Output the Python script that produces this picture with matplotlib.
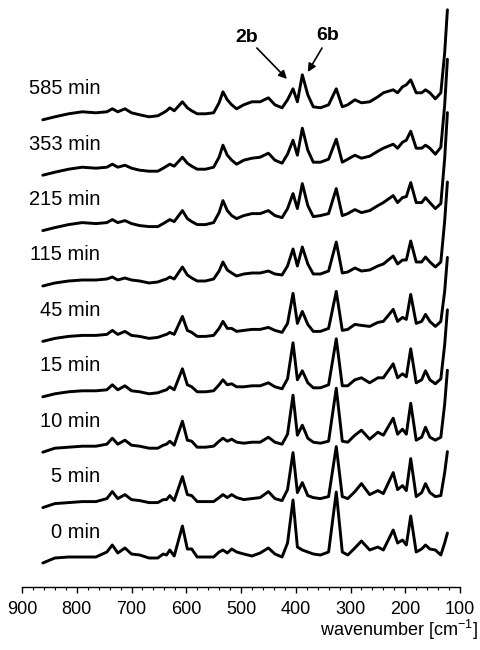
import matplotlib
matplotlib.use('Agg')
import matplotlib.pyplot as plt
from matplotlib.ticker import MultipleLocator
import numpy as np

# shared wavenumber grid (cm^-1) at which the spectra were read
wavenumber = [862, 840, 815, 790, 765, 745, 735, 725, 712, 700,
              685, 668, 652, 642, 636, 630, 622, 607, 598, 590,
              580, 565, 550, 540, 533, 525, 517, 508, 495, 480,
              465, 450, 438, 425, 415, 405, 397, 388, 378, 368,
              355, 340, 326, 315, 305, 292, 280, 265, 250, 240,
              222, 214, 205, 198, 190, 180, 170, 163, 155, 145,
              135, 128, 123]

times = ['0 min', '5 min', '10 min', '15 min', '45 min',
         '115 min', '215 min', '353 min', '585 min']

s_0 = [0, 5, 6, 6, 6, 11, 18, 10, 15, 9, 8, 5, 5, 9, 8, 13, 7, 37, 14, 14,
       6, 6, 6, 11, 13, 10, 14, 11, 9, 7, 10, 15, 9, 6, 20, 63, 16, 13, 11, 9,
       8, 11, 71, 11, 8, 15, 22, 13, 16, 13, 33, 20, 23, 18, 47, 11, 14, 18, 14, 13,
       8, 20, 30]
s_5 = [0, 4, 5, 6, 6, 9, 16, 9, 13, 8, 7, 5, 5, 8, 8, 12, 7, 31, 13, 12,
       6, 6, 6, 10, 13, 10, 13, 10, 8, 9, 10, 16, 9, 7, 18, 55, 15, 25, 12, 10,
       9, 11, 61, 11, 9, 16, 24, 13, 17, 14, 35, 18, 22, 17, 49, 11, 15, 24, 15, 11,
       12, 35, 56]
s_10 = [0, 4, 5, 6, 6, 8, 14, 8, 12, 7, 6, 4, 4, 7, 8, 11, 7, 31, 12, 11,
        5, 5, 6, 11, 14, 11, 13, 10, 9, 10, 10, 15, 10, 8, 18, 57, 17, 27, 14, 10,
        9, 11, 64, 11, 10, 17, 22, 13, 20, 17, 34, 18, 23, 18, 49, 12, 15, 25, 15, 12,
        15, 48, 82]
s_15 = [0, 3, 5, 6, 6, 7, 12, 7, 11, 6, 5, 3, 4, 6, 7, 10, 7, 28, 12, 10,
        5, 5, 6, 12, 17, 12, 13, 10, 10, 11, 11, 14, 10, 8, 18, 54, 17, 26, 14, 9,
        9, 12, 58, 11, 11, 17, 19, 14, 19, 19, 33, 19, 23, 20, 48, 14, 17, 26, 17, 13,
        18, 52, 87]
s_45 = [0, 3, 5, 6, 6, 7, 11, 7, 10, 6, 5, 3, 4, 6, 7, 9, 7, 25, 11, 9,
        5, 5, 6, 13, 20, 13, 13, 10, 11, 12, 12, 14, 11, 9, 18, 48, 18, 30, 17, 10,
        10, 13, 50, 11, 12, 17, 16, 15, 19, 20, 32, 20, 24, 22, 47, 18, 20, 27, 20, 15,
        20, 50, 84]
s_115 = [0, 3, 5, 6, 6, 7, 9, 6, 8, 6, 5, 3, 4, 6, 7, 9, 7, 19, 11, 8,
         5, 5, 7, 15, 24, 16, 13, 10, 12, 13, 13, 15, 12, 11, 20, 37, 20, 39, 22, 12,
         12, 15, 44, 13, 14, 18, 15, 16, 20, 22, 30, 22, 26, 26, 45, 24, 24, 29, 24, 19,
         24, 65, 104]
s_215 = [0, 3, 6, 8, 7, 8, 11, 8, 10, 7, 5, 4, 4, 7, 9, 11, 9, 20, 12, 9,
         6, 6, 8, 18, 30, 20, 15, 12, 15, 17, 17, 20, 15, 13, 22, 37, 22, 47, 25, 14,
         15, 17, 42, 15, 17, 21, 18, 20, 25, 28, 35, 28, 33, 34, 48, 28, 28, 33, 28, 22,
         27, 72, 118]
s_353 = [0, 3, 6, 8, 7, 8, 11, 8, 10, 7, 5, 4, 4, 7, 9, 11, 9, 18, 12, 9,
         6, 6, 8, 18, 30, 20, 15, 11, 15, 17, 18, 22, 15, 12, 21, 35, 20, 47, 25, 13,
         13, 16, 36, 13, 16, 20, 17, 19, 24, 27, 31, 27, 33, 35, 44, 27, 27, 30, 27, 21,
         28, 70, 116]
s_585 = [0, 3, 6, 8, 7, 8, 11, 8, 11, 7, 5, 3, 4, 7, 9, 12, 9, 18, 12, 9,
         6, 6, 7, 17, 28, 20, 15, 11, 15, 18, 18, 22, 15, 12, 20, 31, 18, 45, 25, 13,
         12, 15, 31, 13, 15, 20, 17, 18, 23, 27, 30, 27, 33, 35, 40, 27, 27, 30, 27, 21,
         27, 67, 110]

spectra = [s_0, s_5, s_10, s_15, s_45, s_115, s_215, s_353, s_585]

xticks = [900, 800, 700, 600, 500, 400, 300, 200, 100]

plt.rcParams['font.family'] = ['Liberation Sans', 'DejaVu Sans']
plt.rcParams['mathtext.default'] = 'regular'

W, H = 481, 650
fig = plt.figure(figsize=(W / 100, H / 100), dpi=100)
ax = fig.add_axes([22 / W, 63 / H, 438 / W, 587 / H])
ax.set_xlim(900, 100)
ax.set_ylim(0, 587)

spacing = 55.4
base = 24
for i, (lab, s) in enumerate(zip(times, spectra)):
    off = base + i * spacing
    ax.plot(wavenumber, np.array(s) + off, color='black', lw=2.1,
            solid_joinstyle='round', solid_capstyle='round', clip_on=False)
    ax.text(757, off + 31, lab, ha='right', va='center', fontsize=14.5)

# band labels 2b and 6b with arrows pointing to the top spectrum
ax.text(489, 550, '2b', fontsize=14, fontweight='bold', ha='center', va='center')
ax.text(341, 551, '6b', fontsize=14, fontweight='bold', ha='center', va='center')
arrow = dict(arrowstyle='-|>', color='black', lw=1.2, mutation_scale=12,
             shrinkA=0, shrinkB=0)
ax.annotate('', xy=(416, 508), xytext=(471, 539), arrowprops=arrow)
ax.annotate('', xy=(378, 515), xytext=(352, 539), arrowprops=arrow)

for side in ['top', 'left', 'right']:
    ax.spines[side].set_visible(False)
ax.spines['bottom'].set_linewidth(1.0)
ax.set_yticks([])
ax.set_xticks(xticks)
ax.set_xticklabels([str(t) for t in xticks])
ax.xaxis.set_minor_locator(MultipleLocator(20))
ax.tick_params(axis='x', which='major', direction='out', length=4, width=1,
               labelsize=13, pad=6)
ax.tick_params(axis='x', which='minor', direction='out', length=2.5, width=0.8)

fig.text(478 / W, 1 - 630 / H, r'wavenumber [cm$^{-1}$]', ha='right', va='center',
         fontsize=13)

fig.savefig('out.png', dpi=100)
